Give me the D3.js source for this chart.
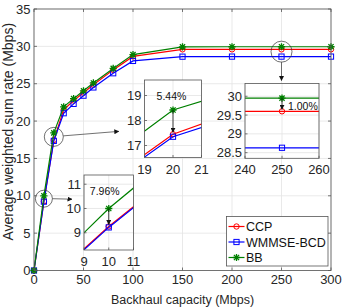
<!DOCTYPE html>
<html>
<head>
<meta charset="utf-8">
<script src="https://cdn.jsdelivr.net/npm/d3@7"></script>
<style>
body { margin: 0; background: #fff; }
svg { font-family: "Liberation Sans", Arial, sans-serif; }
</style>
</head>
<body>
<svg id="chart" width="342" height="307"></svg>
<script>
// data
const capacity = [0, 10, 20, 30, 40, 50, 60, 80, 100, 150, 200, 250, 300];
const ccp   = [0, 9.26, 17.45, 21.5, 22.75, 23.8, 24.85, 26.85, 28.65, 29.6, 29.6, 29.6, 29.6];
const wmmse = [0, 9.22, 17.35, 21.05, 22.3, 23.4, 24.5, 26.4, 28.05, 28.62, 28.63, 28.63, 28.63];
const bb    = [0, 10.0, 18.42, 21.9, 23.0, 24.05, 25.1, 27.05, 28.9, 29.93, 29.95, 29.95, 29.95];
const seriesNames = ["CCP", "WMMSE-BCD", "BB"];

const xTicks = [0, 50, 100, 150, 200, 250, 300];
const yTicks = [0, 5, 10, 15, 20, 25, 30, 35];

// zoomed windows: axis limits, ticks, gain label, zoom point
const zoomXLim = [[9, 11], [19, 21], [240, 260]];
const zoomYLim = [[8.29, 11.38], [16.52, 19.62], [28.35, 30.34]];
const zoomXTicks = [[9, 10, 11], [19, 20, 21], [240, 250, 260]];
const zoomYTicks = [[9, 10, 11], [17, 18, 19], [28.5, 29, 29.5, 30]];
const zoomAt = [10, 20, 250];
const gains = ["7.96%", "5.44%", "1.00%"];

let margin = {top: 9, right: 11, bottom: 36.5, left: 34};
let widthChart = 342 - margin.left - margin.right;
let heightChart = 307 - margin.top - margin.bottom;

const svg = d3.select("#chart");
const axisColor = "#555";
const gridColor = "#e3e3e3";

const series = [
  {name: seriesNames[0], values: ccp,   color: "#ff0000", marker: "circle"},
  {name: seriesNames[1], values: wmmse, color: "#0000ff", marker: "square"},
  {name: seriesNames[2], values: bb,    color: "#008000", marker: "star"}
];

let defs = svg.append("defs");
defs.append("marker").attr("id", "arrow")
  .attr("viewBox", "0 0 10 10").attr("refX", 9).attr("refY", 5)
  .attr("markerWidth", 5).attr("markerHeight", 5)
  .attr("markerUnits", "userSpaceOnUse")
  .attr("orient", "auto")
  .append("path").attr("d", "M0,0 L10,5 L0,10 z").attr("fill", "#111");

function drawMarker(g, type, color) {
  if (type === "circle") {
    g.append("circle").attr("r", 2.7).attr("fill", "none")
      .attr("stroke", color).attr("stroke-width", 1);
  } else if (type === "square") {
    g.append("rect").attr("x", -2.6).attr("y", -2.6).attr("width", 5.2).attr("height", 5.2)
      .attr("fill", "none").attr("stroke", color).attr("stroke-width", 1);
  } else {
    let s = 3.6, a = 2.6;
    g.append("path")
      .attr("d", `M${-s},0L${s},0M0,${-s}L0,${s}M${-a},${-a}L${a},${a}M${-a},${a}L${a},${-a}`)
      .attr("stroke", color).attr("stroke-width", 1.3).attr("fill", "none");
  }
}

/* main axes */
let chart = svg.append("g")
  .attr("transform", "translate(" + margin.left + "," + margin.top + ")");
let x = d3.scaleLinear().domain([0, 300]).range([0, widthChart]);
let y = d3.scaleLinear().domain([0, 35]).range([heightChart, 0]);

chart.append("rect").attr("width", widthChart).attr("height", heightChart).attr("fill", "#fff");
chart.selectAll(".gx").data(xTicks).enter().append("line")
  .attr("x1", d => x(d)).attr("x2", d => x(d)).attr("y1", 0).attr("y2", heightChart)
  .attr("stroke", gridColor).attr("stroke-width", 0.8);
chart.selectAll(".gy").data(yTicks).enter().append("line")
  .attr("y1", d => y(d)).attr("y2", d => y(d)).attr("x1", 0).attr("x2", widthChart)
  .attr("stroke", gridColor).attr("stroke-width", 0.8);

series.forEach(function(s) {
  let line = d3.line().x((d, i) => x(capacity[i])).y(d => y(d));
  chart.append("path").datum(s.values).attr("d", line)
    .attr("fill", "none").attr("stroke", s.color).attr("stroke-width", 1.2);
  s.values.forEach(function(v, i) {
    drawMarker(chart.append("g").attr("transform", `translate(${x(capacity[i])},${y(v)})`), s.marker, s.color);
  });
});

// box, ticks, labels
chart.append("rect").attr("width", widthChart).attr("height", heightChart)
  .attr("fill", "none").attr("stroke", axisColor).attr("stroke-width", 0.8);
xTicks.forEach(function(t) {
  chart.append("line").attr("x1", x(t)).attr("x2", x(t)).attr("y1", heightChart).attr("y2", heightChart - 3)
    .attr("stroke", axisColor).attr("stroke-width", 0.8);
  chart.append("line").attr("x1", x(t)).attr("x2", x(t)).attr("y1", 0).attr("y2", 3)
    .attr("stroke", axisColor).attr("stroke-width", 0.8);
  chart.append("text").text(t).attr("x", x(t)).attr("y", heightChart + 13)
    .attr("text-anchor", "middle").attr("font-size", "13px").attr("fill", "#262626");
});
yTicks.forEach(function(t) {
  chart.append("line").attr("x1", 0).attr("x2", 3).attr("y1", y(t)).attr("y2", y(t))
    .attr("stroke", axisColor).attr("stroke-width", 0.8);
  chart.append("line").attr("x1", widthChart).attr("x2", widthChart - 3).attr("y1", y(t)).attr("y2", y(t))
    .attr("stroke", axisColor).attr("stroke-width", 0.8);
  chart.append("text").text(t).attr("x", -3.5).attr("y", y(t) + 4.5)
    .attr("text-anchor", "end").attr("font-size", "13px").attr("fill", "#262626");
});
chart.append("text").text("Backhaul capacity (Mbps)")
  .attr("x", widthChart / 2).attr("y", heightChart + 33)
  .attr("text-anchor", "middle").attr("font-size", "12.5px").attr("fill", "#262626");
chart.append("text").text("Average weighted sum rate (Mbps)")
  .attr("transform", `translate(${13 - margin.left},${heightChart / 2 - 8}) rotate(-90)`)
  .attr("text-anchor", "middle").attr("font-size", "14px").attr("fill", "#262626");

/* zoom circles on main plot + arrows */
const insetBoxes = [
  {x: 84, y: 175, w: 49.5, h: 75},
  {x: 144.5, y: 80, w: 57, h: 77.5},
  {x: 245, y: 83.5, w: 74, h: 74.8}
];
const circleR = [8.5, 9.5, 10.5];
const circleMid = zoomAt.map(function(z) {
  let i = capacity.indexOf(z);
  return (bb[i] + wmmse[i]) / 2;
});
zoomAt.forEach(function(z, k) {
  let cx = margin.left + x(z), cy = margin.top + y(circleMid[k]);
  svg.append("circle").attr("cx", cx).attr("cy", cy).attr("r", circleR[k])
    .attr("fill", "none").attr("stroke", "#333").attr("stroke-width", 0.7);
  let b = insetBoxes[k];
  let path;
  if (k === 2) path = [[cx, cy + circleR[k]], [cx, b.y - 3]];
  else if (k === 1) path = [[cx + circleR[k], cy - 1], [cx + 65, cy - 5.5]];
  else path = [[cx + circleR[k], cy], [b.x - 12, cy + 0.5]];
  svg.append("line").attr("x1", path[0][0]).attr("y1", path[0][1])
    .attr("x2", path[1][0]).attr("y2", path[1][1])
    .attr("stroke", "#333").attr("stroke-width", 0.7).attr("marker-end", "url(#arrow)");
});

/* insets */
insetBoxes.forEach(function(b, k) {
  let gi = svg.append("g").attr("transform", `translate(${b.x},${b.y})`);
  let xs = d3.scaleLinear().domain(zoomXLim[k]).range([0, b.w]);
  let ys = d3.scaleLinear().domain(zoomYLim[k]).range([b.h, 0]);
  defs.append("clipPath").attr("id", "clip" + k)
    .append("rect").attr("width", b.w).attr("height", b.h);
  gi.append("rect").attr("width", b.w).attr("height", b.h).attr("fill", "#fff");
  zoomXTicks[k].forEach(t => gi.append("line").attr("x1", xs(t)).attr("x2", xs(t))
    .attr("y1", 0).attr("y2", b.h).attr("stroke", gridColor).attr("stroke-width", 0.8));
  zoomYTicks[k].forEach(t => gi.append("line").attr("y1", ys(t)).attr("y2", ys(t))
    .attr("x1", 0).attr("x2", b.w).attr("stroke", gridColor).attr("stroke-width", 0.8));

  let plot = gi.append("g").attr("clip-path", `url(#clip${k})`);
  series.forEach(function(s) {
    let line = d3.line().x((d, i) => xs(capacity[i])).y(d => ys(d));
    plot.append("path").datum(s.values).attr("d", line)
      .attr("fill", "none").attr("stroke", s.color).attr("stroke-width", 1.2);
    s.values.forEach(function(v, i) {
      if (capacity[i] >= zoomXLim[k][0] && capacity[i] <= zoomXLim[k][1])
        drawMarker(plot.append("g").attr("transform", `translate(${xs(capacity[i])},${ys(v)})`), s.marker, s.color);
    });
  });

  gi.append("rect").attr("width", b.w).attr("height", b.h)
    .attr("fill", "none").attr("stroke", axisColor).attr("stroke-width", 0.8);
  zoomXTicks[k].forEach(function(t) {
    gi.append("line").attr("x1", xs(t)).attr("x2", xs(t)).attr("y1", b.h).attr("y2", b.h - 2.5)
      .attr("stroke", axisColor).attr("stroke-width", 0.8);
    gi.append("text").text(t).attr("x", xs(t)).attr("y", b.h + 16)
      .attr("text-anchor", "middle").attr("font-size", "13px").attr("fill", "#262626");
  });
  zoomYTicks[k].forEach(function(t) {
    gi.append("line").attr("x1", 0).attr("x2", 2.5).attr("y1", ys(t)).attr("y2", ys(t))
      .attr("stroke", axisColor).attr("stroke-width", 0.8);
    gi.append("text").text(t).attr("x", -3).attr("y", ys(t) + 4.5)
      .attr("text-anchor", "end").attr("font-size", "13px").attr("fill", "#262626");
  });

  // gain arrow from BB down to CCP
  let i = capacity.indexOf(zoomAt[k]);
  gi.append("line").attr("x1", xs(zoomAt[k])).attr("x2", xs(zoomAt[k]))
    .attr("y1", ys(bb[i])).attr("y2", ys(ccp[i]) - 2)
    .attr("stroke", "#111").attr("stroke-width", 0.8).attr("marker-end", "url(#arrow)");
  let tx = k === 2 ? xs(zoomAt[k]) + 6 : xs(zoomAt[k]) - (k === 0 ? 4 : 1.5);
  let ty = k === 2 ? 26 : 20;
  gi.append("text").text(gains[k]).attr("x", tx).attr("y", ty)
    .attr("text-anchor", k === 2 ? "start" : "middle")
    .attr("font-size", "10.5px").attr("fill", "#111");
});

/* legend */
let legend = svg.append("g").attr("transform", "translate(226.5,216.5)");
legend.append("rect").attr("width", 101.5).attr("height", 49.5)
  .attr("fill", "#fff").attr("stroke", axisColor).attr("stroke-width", 0.8);
series.forEach(function(s, i) {
  let row = legend.append("g").attr("transform", `translate(0,${10 + i * 15.5})`);
  row.append("line").attr("x1", 2).attr("x2", 18).attr("stroke", s.color).attr("stroke-width", 1.2);
  drawMarker(row.append("g").attr("transform", "translate(10,0)"), s.marker, s.color);
  row.append("text").text(s.name).attr("x", 19.5).attr("y", 4.5)
    .attr("font-size", "12.5px").attr("fill", "#111");
});
</script>
</body>
</html>
